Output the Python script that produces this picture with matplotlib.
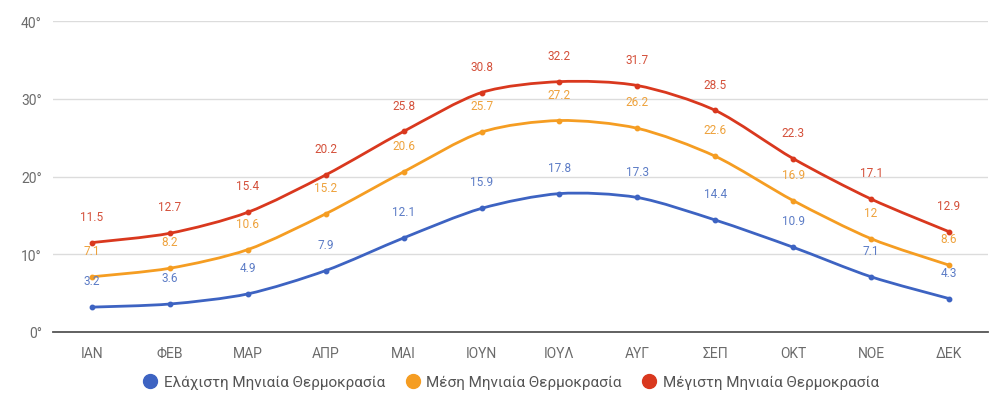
import numpy as np
import matplotlib
matplotlib.use("Agg")
import matplotlib.pyplot as plt
from matplotlib.path import Path
from matplotlib.patches import PathPatch
from matplotlib.lines import Line2D

months = ["ΙΑΝ", "ΦΕΒ", "ΜΑΡ", "ΑΠΡ", "ΜΑΙ", "ΙΟΥΝ", "ΙΟΥΛ", "ΑΥΓ", "ΣΕΠ", "ΟΚΤ", "ΝΟΕ", "ΔΕΚ"]
t_min = [3.2, 3.6, 4.9, 7.9, 12.1, 15.9, 17.8, 17.3, 14.4, 10.9, 7.1, 4.3]
t_mean = [7.1, 8.2, 10.6, 15.2, 20.6, 25.7, 27.2, 26.2, 22.6, 16.9, 12, 8.6]
t_max = [11.5, 12.7, 15.4, 20.2, 25.8, 30.8, 32.2, 31.7, 28.5, 22.3, 17.1, 12.9]
series_names = ["Ελάχιστη Μηνιαία Θερμοκρασία", "Μέση Μηνιαία Θερμοκρασία", "Μέγιστη Μηνιαία Θερμοκρασία"]
yticks = [0, 10, 20, 30, 40]

line_colors = ["#3d63c2", "#f59d22", "#d9381e"]
label_colors = ["#5c7cc6", "#eea23c", "#d4503a"]

plt.rcParams['font.family'] = ['Roboto', 'DejaVu Sans']

fig = plt.figure(figsize=(10.07, 4.02), dpi=100)
ax = fig.add_axes([53 / 1007, 69 / 402, 935 / 1007, 311 / 402])


def smooth_path(x, y, k=1 / 6):
    # cubic bezier through the points (catmull-rom style control points)
    verts = [(x[0], y[0])]
    codes = [Path.MOVETO]
    n = len(x)
    for i in range(n - 1):
        x0, y0 = (x[i - 1], y[i - 1]) if i > 0 else (x[i], y[i])
        x3, y3 = (x[i + 2], y[i + 2]) if i + 2 < n else (x[i + 1], y[i + 1])
        c1 = (x[i] + (x[i + 1] - x0) * k, y[i] + (y[i + 1] - y0) * k)
        c2 = (x[i + 1] - (x3 - x[i]) * k, y[i + 1] - (y3 - y[i]) * k)
        verts += [c1, c2, (x[i + 1], y[i + 1])]
        codes += [Path.CURVE4] * 3
    return Path(verts, codes)


x = np.arange(len(months))
for vals, lc, tc in zip([t_min, t_mean, t_max], line_colors, label_colors):
    ax.add_patch(PathPatch(smooth_path(x, vals, 0.14), facecolor="none", edgecolor=lc, lw=2, zorder=3))
    ax.plot(x, vals, "o", color=lc, ms=3.2, zorder=4)
    for xi, v in zip(x, vals):
        ax.annotate(f"{v:g}", (xi, v), xytext=(0, 19), textcoords="offset points",
                    ha="center", va="center", fontsize=8.5, color=tc, zorder=5)

ax.set_xlim(-0.5, len(months) - 0.5)
ax.set_ylim(0, 40)
ax.set_yticks(yticks)
ax.set_yticklabels([f"{v}°" for v in yticks])
ax.set_xticks(x)
ax.set_xticklabels(months)
ax.tick_params(axis="both", length=0, labelsize=10, labelcolor="#6b6b6b")
ax.tick_params(axis="y", pad=8)
ax.tick_params(axis="x", pad=10)
ax.grid(axis="y", color="#dcdcdc", lw=1)
ax.set_axisbelow(True)
for s in ["top", "right", "left"]:
    ax.spines[s].set_visible(False)
ax.spines["bottom"].set_color("#555555")
ax.spines["bottom"].set_linewidth(1.3)

handles = [Line2D([], [], ls="none", marker="o", ms=10, color=c) for c in line_colors]
fig.legend(handles, series_names, loc="center", bbox_to_anchor=(510 / 1007, 19 / 402),
           ncol=3, frameon=False, fontsize=11, labelcolor="#555555",
           handletextpad=0.3, columnspacing=1.2, handlelength=1.2)

fig.savefig("out.png", dpi=100)
